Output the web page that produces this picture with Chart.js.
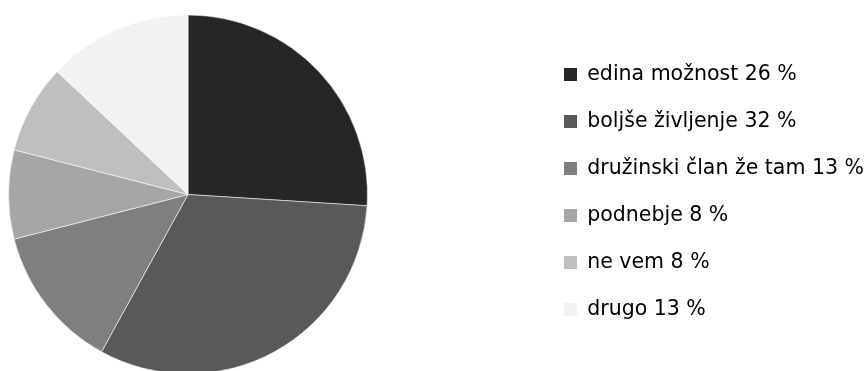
<!DOCTYPE html>
<html>
<head>
<meta charset="utf-8">
<script src="https://cdn.jsdelivr.net/npm/chart.js@4/dist/chart.umd.min.js"></script>
<style>
  html, body { margin: 0; padding: 0; background: #fff; overflow: hidden; }
  #wrap { position: relative; width: 866px; height: 388px; }
</style>
</head>
<body>
<div id="wrap"><canvas id="pie"></canvas></div>
<script>
// razlogi za odhod (delež v %)
const kategorije = ['edina možnost', 'boljše življenje', 'družinski član že tam', 'podnebje', 'ne vem', 'drugo'];
const deleži = [26, 32, 13, 8, 8, 13];
const barve = ['#262626', '#595959', '#7f7f7f', '#a6a6a6', '#bfbfbf', '#f2f2f2'];

const PIE_LEFT = 8;
const PIE_SIZE = 360;
const LEGEND_X = 564;
const LEGEND_DY = -2.5;

// torta levo, legenda desno od nje, kot v originalu
const postavitev = {
    id: 'postavitev',
    afterLayout(chart) {
        const area = chart.chartArea;
        area.left = PIE_LEFT;
        area.right = PIE_LEFT + PIE_SIZE;
        area.width = PIE_SIZE;

        const lg = chart.legend;
        const w = lg.width;
        lg.left = LEGEND_X - lg.options.labels.padding;
        lg.right = lg.left + w;
        lg.top += LEGEND_DY;
        lg.bottom += LEGEND_DY;
    },
};

new Chart(document.getElementById('pie'), {
    type: 'pie',
    data: {
        labels: kategorije.map((k, i) => `${k} ${deleži[i]} %`),
        datasets: [{
            data: deleži,
            backgroundColor: barve,
            borderColor: 'rgba(255,255,255,0.55)',
            borderWidth: 1,
        }],
    },
    options: {
        responsive: true,
        maintainAspectRatio: false,
        animation: false,
        layout: { padding: { left: 8, top: 14, bottom: 13, right: 0 } },
        plugins: {
            tooltip: { enabled: false },
            legend: {
                position: 'right',
                labels: {
                    boxWidth: 13,
                    boxHeight: 13,
                    padding: 26.5,
                    color: '#000',
                    font: { family: 'DejaVu Sans', size: 20.5 },
                    generateLabels(chart) {
                        const items = Chart.overrides.pie.plugins.legend.labels.generateLabels(chart);
                        return items.map((it) => ({ ...it, lineWidth: 0 }));
                    },
                },
            },
        },
    },
    plugins: [postavitev],
});
</script>
</body>
</html>
